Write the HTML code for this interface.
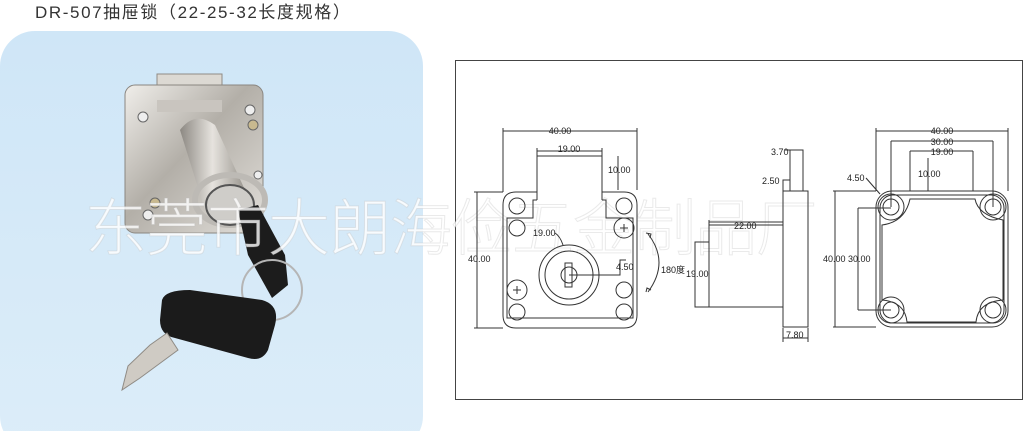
<!DOCTYPE html>
<html><head><meta charset="utf-8"><style>
html,body{margin:0;padding:0;background:#fff;}
body{width:1024px;height:431px;overflow:hidden;position:relative;font-family:"Liberation Sans","Noto Sans CJK SC",sans-serif;}
</style></head><body>
<svg width="1024" height="431" viewBox="0 0 1024 431" xmlns="http://www.w3.org/2000/svg" font-family="Liberation Sans, Noto Sans CJK SC, sans-serif">
<defs>
<linearGradient id="bg" x1="0" y1="0" x2="0" y2="1"><stop offset="0" stop-color="#cfe6f7"/><stop offset="1" stop-color="#dcedf9"/></linearGradient>
<linearGradient id="metal" x1="0" y1="0" x2="1" y2="1"><stop offset="0" stop-color="#f0eeea"/><stop offset=".45" stop-color="#b3afa8"/><stop offset="1" stop-color="#e2dfda"/></linearGradient>
<linearGradient id="cyl" x1="0" y1="0" x2="1" y2="0"><stop offset="0" stop-color="#8c8882"/><stop offset=".5" stop-color="#e6e3de"/><stop offset="1" stop-color="#9a968f"/></linearGradient>
</defs>
<text x="35" y="18" font-size="17" fill="#333" letter-spacing="1.6">DR-507抽屉锁（22-25-32长度规格）</text>
<rect x="0" y="31" width="423" height="420" rx="35" fill="url(#bg)"/>
<!-- lock photo -->
<rect x="157" y="74" width="65" height="38" fill="#dcd9d3" stroke="#8f8b85"/>
<rect x="125" y="85" width="138" height="148" rx="10" fill="url(#metal)" stroke="#8a8680"/>
<rect x="157" y="100" width="65" height="12" fill="#c9c5bf"/>
<circle cx="143" cy="117" r="5" fill="#eee" stroke="#666"/><circle cx="250" cy="110" r="5" fill="#eee" stroke="#666"/>
<circle cx="253" cy="125" r="5" fill="#c8b98f" stroke="#666"/><circle cx="155" cy="203" r="5" fill="#c8b98f" stroke="#666"/>
<circle cx="148" cy="215" r="5" fill="#eee" stroke="#666"/><circle cx="258" cy="175" r="4" fill="#eee" stroke="#666"/>
<path d="M180 130 Q195 110 215 125 L245 190 L205 210 Z" fill="url(#cyl)"/>
<ellipse cx="230" cy="200" rx="35" ry="25" fill="none" stroke="#bdbab5" stroke-width="6"/>
<ellipse cx="230" cy="205" rx="24" ry="20" fill="#cfcdc9" stroke="#555" stroke-width="2"/>
<path d="M238 210 L258 205 L285 255 L288 285 L272 298 L248 255 Z" fill="#1c1c1c"/>
<circle cx="272" cy="290" r="30" fill="none" stroke="#b5b5b5" stroke-width="2"/>
<path d="M162 300 Q165 290 190 290 L262 300 Q280 305 275 325 L268 350 Q262 362 248 358 L175 338 Q160 335 160 320 Z" fill="#1b1b1b"/>
<path d="M167 333 L150 345 L128 366 L122 390 L140 378 L178 350 Z" fill="#cfcbc4" stroke="#8f8b85"/>
<!-- drawing frame -->
<rect x="455.5" y="60.5" width="567" height="339" fill="#fff" stroke="#444" stroke-width="1"/>
<!-- watermark -->
<text x="85" y="250" font-size="62" fill="#ffffff" fill-opacity="0.8" stroke="#bbb" stroke-opacity="0.3" letter-spacing="-1" font-family="Noto Sans CJK SC, sans-serif" font-weight="300">东莞市大朗海俭五金制品厂</text>
<g fill="none" stroke="#333" stroke-width="1">
<!-- front view -->
<path d="M537 192 V156 H602 V192"/>
<path d="M537 192 H516 Q503 192 503 205 V315 Q503 328 516 328 H624 Q637 328 637 315 V205 Q637 192 624 192 H602"/>
<path d="M537 192 V200 M602 192 V200"/>
<path d="M537 200 H533 V218 H507 V318 H633 V218 H606 V200 H602"/>
<circle cx="517" cy="206" r="8"/><circle cx="624" cy="206" r="8"/>
<circle cx="517" cy="312" r="8"/><circle cx="624" cy="312" r="8"/>
<circle cx="517" cy="228" r="8"/><circle cx="624" cy="290" r="8"/>
<circle cx="624" cy="228" r="10"/><circle cx="517" cy="290" r="10"/>
<path d="M620 228h8M624 224v8M513 290h8M517 286v8"/>
<circle cx="569" cy="275" r="30"/><circle cx="569" cy="275" r="24"/>
<circle cx="569" cy="275" r="8"/><rect x="565" y="263" width="7" height="24"/>
<path d="M569 275 H620 V260 H626"/>
<path d="M503 128 V192 M637 128 V190 M503 131 H637"/>
<path d="M537 148 V156 M602 148 V156 M537 151 H602"/>
<path d="M618 156 V190"/>
<path d="M474 192 H503 M474 328 H503 M477 192 V328"/>
<path d="M555 233 Q560 236 563 245"/>
<path d="M648 234 Q670 262 648 292"/><path d="M646 233 l5 1 l-1 4 M646 292 l1 -4 l4 2"/>
<!-- side view -->
<rect x="783" y="191" width="25" height="136"/>
<rect x="790" y="150" width="13" height="41"/>
<rect x="783" y="180" width="7" height="11"/>
<rect x="709" y="225" width="74" height="82"/>
<rect x="695" y="242" width="14" height="65"/>
<path d="M709 225 V220 M709 222 H783"/>
<path d="M785 150 H790 M785 180 H790"/>
<path d="M783 328 V342 M808 328 V342 M783 338 H808"/>
<!-- back view -->
<rect x="876" y="191" width="132" height="136" rx="16"/>
<rect x="880" y="195" width="124" height="128" rx="13"/>
<path d="M910 199 H975 Q978 215 1003 220 V300 Q978 302 976 322 H907 Q905 302 882 300 V225 Q905 222 910 199 Z"/>
<circle cx="891" cy="207" r="13"/><circle cx="891" cy="207" r="8"/>
<circle cx="993" cy="207" r="13"/><circle cx="993" cy="207" r="8"/>
<circle cx="891" cy="310" r="13"/><circle cx="891" cy="310" r="8"/>
<circle cx="993" cy="310" r="13"/><circle cx="993" cy="310" r="8"/>
<path d="M876 128 V191 M1008 128 V191 M876 131 H1008"/>
<path d="M891 141 V207 M993 141 V207 M891 141 H993"/>
<path d="M910 151 V191 M973 151 V191 M910 151 H973"/>
<path d="M928 158 V191"/>
<path d="M833 191 H876 M833 327 H876 M835 191 V327"/>
<path d="M858 208 H891 M858 310 H891 M858 208 V310"/>
<path d="M866 178 L880 194"/>
</g>
<g font-size="9" fill="#222">
<text x="560" y="134" text-anchor="middle">40.00</text>
<text x="569" y="152" text-anchor="middle">19.00</text>
<text x="608" y="173">10.00</text>
<text x="533" y="236">19.00</text>
<text x="616" y="270">4.50</text>
<text x="468" y="262">40.00</text>
<text x="661" y="273">180度</text>
<text x="686" y="277">19.00</text>
<text x="771" y="155">3.70</text>
<text x="762" y="184">2.50</text>
<text x="734" y="229">22.00</text>
<text x="786" y="338">7.80</text>
<text x="942" y="134" text-anchor="middle">40.00</text>
<text x="942" y="145" text-anchor="middle">30.00</text>
<text x="942" y="155" text-anchor="middle">19.00</text>
<text x="918" y="177">10.00</text>
<text x="847" y="181">4.50</text>
<text x="823" y="262">40.00</text>
<text x="848" y="262">30.00</text>
</g>
</svg>
</body></html>
